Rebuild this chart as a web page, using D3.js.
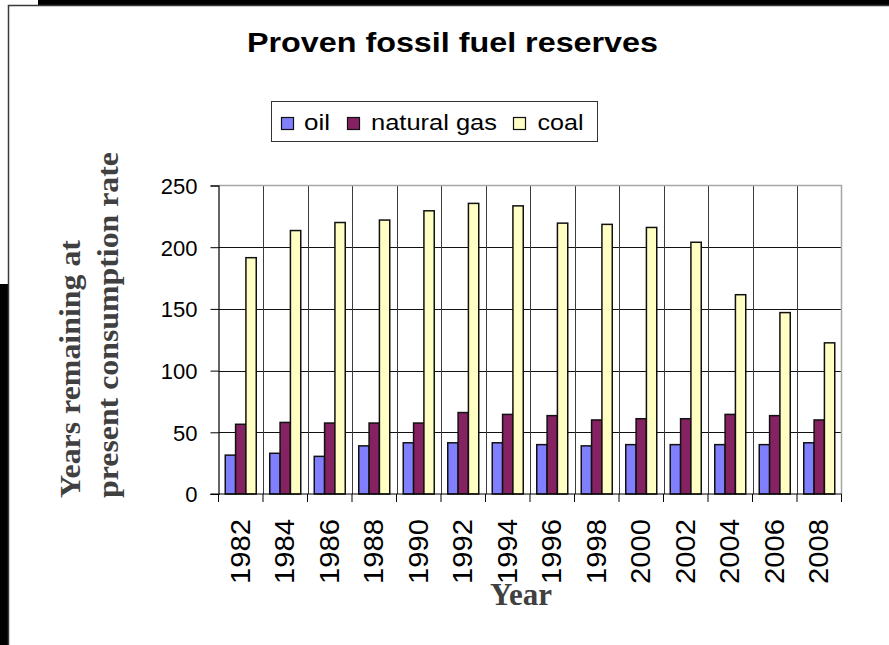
<!DOCTYPE html>
<html>
<head>
<meta charset="utf-8">
<script src="https://cdn.jsdelivr.net/npm/d3@7"></script>
<style>
  html, body { margin: 0; padding: 0; background: #fff; }
  svg { display: block; }
</style>
</head>
<body>
<svg id="chart" width="889" height="645"></svg>
<script>
// Reserves-to-production ratios, in years, every second year
const years = ["1982","1984","1986","1988","1990","1992","1994","1996","1998","2000","2002","2004","2006","2008"];
const seriesNames = ["oil", "natural gas", "coal"];
const oil  = [31.5, 33, 30.5, 39, 41.5, 41.5, 41.5, 40, 39, 40, 40, 40, 40, 41.5];
const gas  = [56.5, 58, 57.5, 57.5, 57.5, 66, 64.5, 63.5, 60, 61, 61, 64.5, 63.5, 60];
const coal = [191.5, 213.5, 220, 222, 229.5, 235.5, 233.5, 219.5, 218.5, 216, 204, 161.5, 147, 122.5];
const yTicks = [0, 50, 100, 150, 200, 250];

const colors = ["#8080ff", "#852262", "#ffffc4"];
const seriesValues = [oil, gas, coal];

const svg = d3.select("#chart");

// page frame
svg.append("rect").attr("x", 0).attr("y", 0).attr("width", 889).attr("height", 645).attr("fill", "#fff");
svg.append("rect").attr("x", 38).attr("y", 0).attr("width", 851).attr("height", 5).attr("fill", "#000");
svg.append("rect").attr("x", 0).attr("y", 284).attr("width", 8).attr("height", 361).attr("fill", "#000");
svg.append("path").attr("d", "M8.5,645 V5.5 H889").attr("fill", "none").attr("stroke", "#3a3a3a").attr("stroke-width", 1.5);

const plot = { left: 218.5, right: 841.5, top: 185.5, bottom: 494 };

const x = d3.scaleBand().domain(years).range([plot.left, plot.right]).padding(0);
const groupW = 31;
const xs = d3.scaleBand().domain(seriesNames)
  .range([(x.bandwidth() - groupW) / 2, (x.bandwidth() + groupW) / 2]).padding(0);
const y = d3.scaleLinear().domain([0, 250]).range([plot.bottom, plot.top]);

// horizontal gridlines
svg.append("g").selectAll("line").data(yTicks.filter(t => t > 0 && t < 250)).join("line")
  .attr("x1", plot.left).attr("x2", plot.right)
  .attr("y1", d => Math.round(y(d)) + 0.5).attr("y2", d => Math.round(y(d)) + 0.5)
  .attr("stroke", "#111").attr("stroke-width", 1);

// vertical gridlines at category boundaries
svg.append("g").selectAll("line").data(years.slice(1)).join("line")
  .attr("x1", d => Math.round(x(d)) + 0.5).attr("x2", d => Math.round(x(d)) + 0.5)
  .attr("y1", plot.top).attr("y2", plot.bottom)
  .attr("stroke", "#3c3c3c").attr("stroke-width", 1);

// top and right plot border
svg.append("path")
  .attr("d", `M${plot.left},${plot.top} H${plot.right} V${plot.bottom}`)
  .attr("fill", "none").attr("stroke", "#a6a6a6").attr("stroke-width", 1.5);

// bars
const groups = svg.append("g").selectAll("g").data(years).join("g")
  .attr("transform", d => `translate(${x(d)},0)`);
groups.selectAll("rect")
  .data((d, i) => seriesNames.map((s, j) => ({ s, v: seriesValues[j][i], c: colors[j] })))
  .join("rect")
  .attr("x", d => xs(d.s))
  .attr("y", d => y(d.v))
  .attr("width", xs.bandwidth())
  .attr("height", d => y(0) - y(d.v))
  .attr("fill", d => d.c)
  .attr("stroke", "#111").attr("stroke-width", 1.5);

// y axis
const yAxis = d3.axisLeft(y).tickValues(yTicks).tickSize(8).tickPadding(13);
const gy = svg.append("g").attr("transform", `translate(${plot.left},0)`).call(yAxis);
gy.select(".domain").attr("stroke", "#000").attr("stroke-width", 1.2);
gy.selectAll(".tick line").attr("stroke", "#000");
gy.selectAll(".tick text")
  .attr("font-family", "Arial, 'Liberation Sans', sans-serif")
  .attr("font-size", 22).attr("fill", "#000").attr("dy", "0.36em");

// x axis with ticks on the category boundaries
const gx = svg.append("g").attr("transform", `translate(0,${plot.bottom})`);
gx.append("line").attr("x1", plot.left - 8).attr("x2", plot.right)
  .attr("y1", 0).attr("y2", 0).attr("stroke", "#000").attr("stroke-width", 1.2);
gx.selectAll("line.tk").data(years.concat(["end"])).join("line").attr("class", "tk")
  .attr("x1", (d, i) => plot.left + i * x.bandwidth())
  .attr("x2", (d, i) => plot.left + i * x.bandwidth())
  .attr("y1", 0).attr("y2", 8).attr("stroke", "#000");
gx.selectAll("text").data(years).join("text")
  .attr("transform", d => `translate(${x(d) + x.bandwidth() / 2 + 9},25) rotate(-90)`)
  .attr("text-anchor", "end")
  .attr("font-family", "Arial, 'Liberation Sans', sans-serif")
  .attr("font-size", 28)
  .attr("textLength", 65).attr("lengthAdjust", "spacingAndGlyphs")
  .attr("fill", "#000")
  .text(d => d);

// title
svg.append("text")
  .attr("x", 452.5).attr("y", 52).attr("text-anchor", "middle")
  .attr("font-family", "Arial, 'Liberation Sans', sans-serif")
  .attr("font-weight", "bold").attr("font-size", 27)
  .attr("textLength", 411).attr("lengthAdjust", "spacingAndGlyphs")
  .text("Proven fossil fuel reserves");

// axis titles
const serif = "'Times New Roman', 'Liberation Serif', serif";
const yTitle = [
  { t: "Years remaining at", bx: 80, len: 258 },
  { t: "present consumption rate", bx: 118, len: 346 }
];
svg.append("g").selectAll("text").data(yTitle).join("text")
  .attr("transform", d => `translate(${d.bx},498) rotate(-90)`)
  .attr("text-anchor", "start")
  .attr("font-family", serif).attr("font-weight", "bold").attr("font-size", 30)
  .attr("textLength", d => d.len).attr("lengthAdjust", "spacingAndGlyphs")
  .attr("fill", "#404040")
  .text(d => d.t);

svg.append("text")
  .attr("x", 521).attr("y", 605).attr("text-anchor", "middle")
  .attr("font-family", serif).attr("font-weight", "bold").attr("font-size", 31)
  .attr("fill", "#404040")
  .text("Year");

// legend
const legend = svg.append("g");
legend.append("rect").attr("x", 271.5).attr("y", 101.5).attr("width", 326).attr("height", 40)
  .attr("fill", "#fff").attr("stroke", "#333").attr("stroke-width", 1);
const legendItems = [
  { name: seriesNames[0], sx: 281.5, tx: 304, len: 26 },
  { name: seriesNames[1], sx: 347.5, tx: 371, len: 126 },
  { name: seriesNames[2], sx: 513.5, tx: 537.5, len: 46 }
];
legendItems.forEach((d, i) => {
  legend.append("rect").attr("x", d.sx).attr("y", 117.5).attr("width", 12).attr("height", 12)
    .attr("fill", colors[i]).attr("stroke", "#111").attr("stroke-width", 1.2);
  legend.append("text").attr("x", d.tx).attr("y", 130)
    .attr("font-family", "Arial, 'Liberation Sans', sans-serif").attr("font-size", 22)
    .attr("textLength", d.len).attr("lengthAdjust", "spacingAndGlyphs")
    .text(d.name);
});
</script>
</body>
</html>
